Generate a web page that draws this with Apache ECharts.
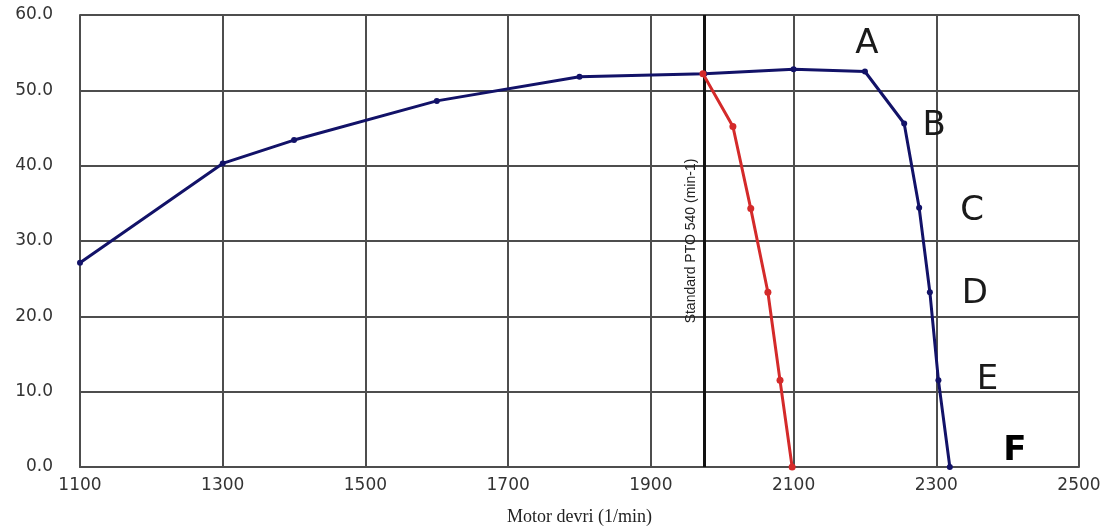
<!DOCTYPE html>
<html><head><meta charset="utf-8">
<script src="https://cdn.jsdelivr.net/npm/echarts@6/dist/echarts.min.js"></script>
<style>html,body{margin:0;padding:0;background:#fff}#c{width:1117px;height:531px}</style>
</head><body><div id="c"></div>
<script>
// Data
var xTicks = [1100, 1300, 1500, 1700, 1900, 2100, 2300, 2500];
var yTicks = [0, 10, 20, 30, 40, 50, 60];
var blueRpm = [1100, 1300, 1400, 1600, 1800, 1975, 2100, 2200, 2255, 2276, 2291, 2303, 2319];
var blueVal = [27.1, 40.3, 43.4, 48.6, 51.8, 52.2, 52.8, 52.5, 45.6, 34.4, 23.2, 11.5, 0.0];
var redRpm = [1973, 2015, 2040, 2064, 2081, 2098];
var redVal = [52.2, 45.2, 34.3, 23.2, 11.5, 0.0];
var ptoRpm = 1975;
var ptoLabel = 'Standard PTO 540 (min-1)';
var xName = 'Motor devri (1/min)';
var pointNames = ['A', 'B', 'C', 'D', 'E', 'F'];   // attached to the last six blue points
var pointIndexStart = 7;

// label styles (offsets in px)
var labelOffsets = [[2, -27], [30, 3], [53, 3], [45, 2], [49, 0], [65, -16]];

var blueData = blueRpm.map(function (x, i) {
  var item = { value: [x, blueVal[i]] };
  var k = i - pointIndexStart;
  if (k >= 0 && k < pointNames.length) {
    item.label = {
      show: true, formatter: pointNames[k], position: 'inside',
      offset: labelOffsets[k], color: k === 5 ? '#000' : '#1a1a1a',
      fontFamily: 'DejaVu Sans, sans-serif', fontSize: 34,
      fontWeight: k === 5 ? 'bold' : 'normal'
    };
  }
  return item;
});
var redData = redRpm.map(function (x, i) { return [x, redVal[i]]; });

var gridColor = '#4d4d4d';
var tickFont = { color: '#333', fontSize: 17, fontFamily: 'DejaVu Sans, sans-serif' };
var chart = echarts.init(document.getElementById('c'));
chart.setOption({
  animation: false,
  grid: { left: 80, right: 38, top: 15, bottom: 63, show: false },
  xAxis: {
    type: 'value', min: 1100, max: 2500, interval: 200,
    name: xName, nameLocation: 'middle', nameGap: 41,
    nameTextStyle: { fontFamily: 'Liberation Serif, serif', fontSize: 18, color: '#222' },
    axisLine: { show: true, lineStyle: { color: gridColor, width: 2 } },
    axisTick: { show: false },
    axisLabel: Object.assign({ margin: 10,
      formatter: function (v) { return xTicks.indexOf(v) >= 0 ? String(v) : ''; } }, tickFont),
    splitLine: { show: true, lineStyle: { color: gridColor, width: 2 } }
  },
  yAxis: {
    type: 'value', min: 0, max: 60, interval: 10,
    axisLine: { show: true, lineStyle: { color: gridColor, width: 2 } },
    axisTick: { show: false },
    axisLabel: Object.assign({ margin: 27,
      formatter: function (v) { return yTicks.indexOf(v) >= 0 ? v.toFixed(1) : ''; } }, tickFont),
    splitLine: { show: true, lineStyle: { color: gridColor, width: 2 } }
  },
  series: [
    {
      type: 'line', name: 'border', data: [], silent: true,
      markLine: {
        silent: true, symbol: 'none', animation: false,
        lineStyle: { color: gridColor, width: 2, type: 'solid' },
        label: { show: false },
        data: [{ xAxis: 2500 }, { yAxis: 60 }]
      }
    },
    {
      type: 'line', name: 'PTO', data: [], silent: true,
      markLine: {
        silent: true, symbol: 'none', animation: false,
        lineStyle: { color: '#111', width: 3, type: 'solid' },
        label: { show: true, formatter: ptoLabel, position: 'insideMiddleTop',
          color: '#222', fontSize: 14, fontFamily: 'Liberation Sans Narrow, Liberation Sans, sans-serif', distance: 6 },
        data: [{ xAxis: ptoRpm }]
      }
    },
    {
      type: 'line', name: 'PTOext', data: [], silent: true, clip: false,
      markLine: {
        silent: true, symbol: 'none', animation: false,
        lineStyle: { color: '#111', width: 3, type: 'solid' },
        label: { show: false },
        data: [[{ coord: [ptoRpm, 60] }, { coord: [ptoRpm, 62] }]]
      }
    },
    {
      type: 'line', name: 'blue', data: blueData,
      lineStyle: { color: '#121268', width: 3 },
      itemStyle: { color: '#121268' },
      symbol: 'circle', symbolSize: 6, showSymbol: true, z: 5
    },
    {
      type: 'line', name: 'red', data: redData,
      lineStyle: { color: '#d42a2a', width: 3 },
      itemStyle: { color: '#d42a2a' },
      symbol: 'circle', symbolSize: 7, showSymbol: true, z: 6
    }
  ]
});
</script></body></html>
